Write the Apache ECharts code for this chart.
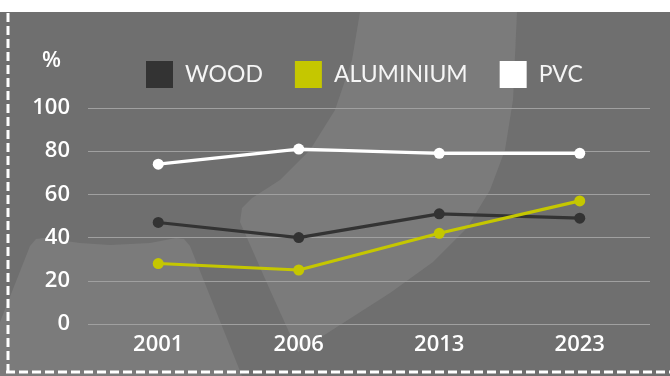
<!DOCTYPE html>
<html><head><meta charset="utf-8">
<script src="https://cdn.jsdelivr.net/npm/echarts@6/dist/echarts.min.js"></script>
<style>html,body{margin:0;padding:0;background:#fff}#c{width:670px;height:376px}</style>
</head><body><div id="c"></div>
<script>
const categories = ['2001','2006','2013','2023'];
const wood = [47, 40, 51, 49];
const aluminium = [28, 25, 42, 57];
const pvc = [74, 81, 79, 79];
const yTicks = [0, 20, 40, 60, 80, 100];

const chart = echarts.init(document.getElementById('c'));
const FONT = 'Lato';
const TICKFONT = 'Open Sans';
const light = '#7b7b7b';
const mk = (name, data, color) => ({
  name, type: 'line', data, symbol: 'circle', symbolSize: 11,
  lineStyle: { color, width: 3.2 }, itemStyle: { color },
  z: 5
});
chart.setOption({
  animation: false,
  backgroundColor: '#ffffff',
  graphic: [
    { type: 'rect', z: -100, shape: { x: 0, y: 12, width: 670, height: 364 }, style: { fill: '#6f6f6f' } },
    { type: 'polygon', z: -90, shape: { points: [[360,12],[352,60],[335,110],[310,150],[280,180],[252,198],[242,208],[240,222],[270,290],[298,352],[340,325],[390,293],[433,262],[467,228],[490,190],[505,150],[513,100],[517,12]] }, style: { fill: light } },
    { type: 'polygon', z: -90, shape: { points: [[0,322],[30,246],[36,239],[44,238],[80,243],[110,245],[150,243],[176,238],[184,239],[190,246],[242,376],[0,376]] }, style: { fill: light } },
    { type: 'line', z: -50, shape: { x1: 8, y1: 0, x2: 8, y2: 376 }, style: { stroke: '#ffffff', lineWidth: 3, lineDash: [9, 4] } },
    { type: 'line', z: -50, shape: { x1: 6, y1: 372, x2: 670, y2: 372 }, style: { stroke: '#ffffff', lineWidth: 3, lineDash: [9, 4] } },
    { type: 'text', z: 10, left: 42, top: 50, style: { text: '%', fill: '#ffffff', font: '600 22px ' + TICKFONT } }
  ],
  legend: {
    left: 146, top: 61, padding: 0, itemWidth: 27, itemHeight: 27, itemGap: 32, icon: 'rect',
    textStyle: { color: '#f5f5f5', fontSize: 23, fontFamily: FONT, padding: [0, 0, 0, 7] },
    data: ['WOOD', 'ALUMINIUM', 'PVC']
  },
  grid: { left: 88, right: 20, top: 108, bottom: 52 },
  xAxis: {
    type: 'category', data: categories, boundaryGap: true,
    axisLine: { show: false }, axisTick: { show: false },
    axisLabel: { color: '#ffffff', fontSize: 22, fontWeight: 600, fontFamily: TICKFONT, margin: 10 }
  },
  yAxis: {
    type: 'value', min: yTicks[0], max: yTicks[yTicks.length - 1], interval: 20,
    axisLine: { show: false }, axisTick: { show: false },
    splitLine: { lineStyle: { color: '#a0a0a0', width: 1 } },
    axisLabel: { color: '#ffffff', fontSize: 22, fontWeight: 600, fontFamily: TICKFONT, margin: 18 }
  },
  series: [
    mk('WOOD', wood, '#333333'),
    mk('ALUMINIUM', aluminium, '#c5c700'),
    mk('PVC', pvc, '#ffffff')
  ]
});
</script></body></html>
